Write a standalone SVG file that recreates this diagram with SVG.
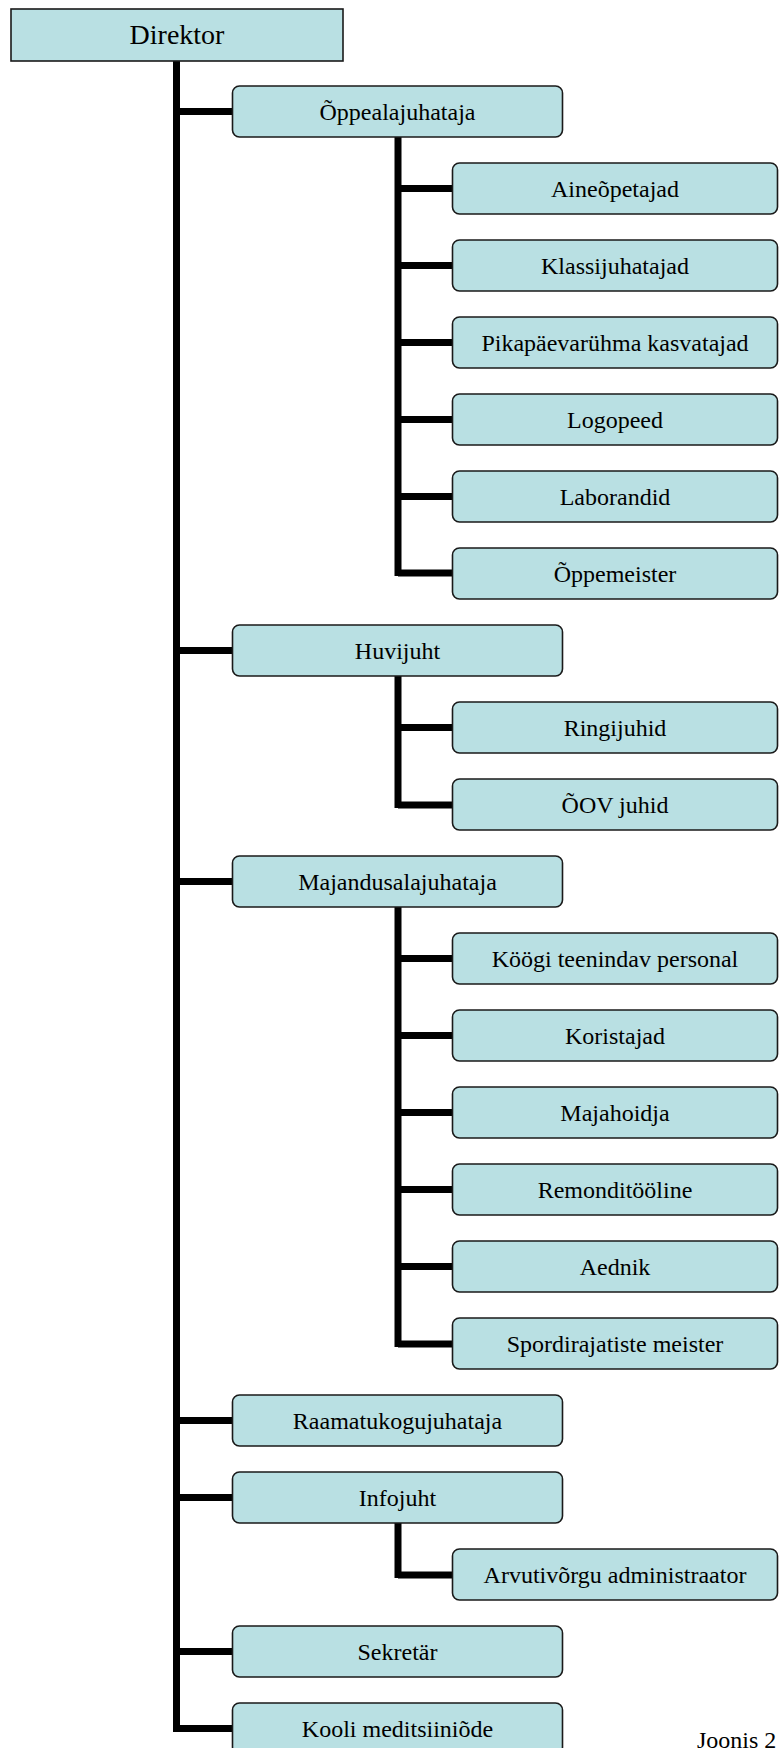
<svg xmlns="http://www.w3.org/2000/svg" width="779" height="1748" viewBox="0 0 779 1748">
<style>
.box{fill:#B9E0E3;stroke:#1a1a1a;stroke-width:1.6}
.t{font-family:"Liberation Serif","Times New Roman",serif;font-size:24px;fill:#000;text-anchor:middle}
.c{stroke:#000;stroke-width:7;fill:none;stroke-linejoin:miter;stroke-linecap:butt}
</style>
<rect width="779" height="1748" fill="#fff"/>
<g id="connectors">
<path class="c" d="M176.5 61 V1732"/>
<path class="c" d="M176.5 111.5 H232 M176.5 650.5 H232 M176.5 881.5 H232 M176.5 1420.5 H232 M176.5 1497.5 H232 M176.5 1651.5 H232 M176.5 1728.5 H232"/>
<path class="c" d="M398 137 V576 M398 188.5 H452 M398 265.5 H452 M398 342.5 H452 M398 419.5 H452 M398 496.5 H452 M398 573 H452"/>
<path class="c" d="M398 676 V808 M398 727.5 H452 M398 805 H452"/>
<path class="c" d="M398 907 V1347 M398 958.5 H452 M398 1035.5 H452 M398 1112.5 H452 M398 1189.5 H452 M398 1266.5 H452 M398 1344 H452"/>
<path class="c" d="M398 1523 V1578 M398 1575 H452"/>
</g>
<g id="n-direktor"><rect class="box" x="11" y="9" width="332" height="52"/><text class="t" x="177" y="44" style="font-size:28px">Direktor</text></g>
<g id="n-oppealajuhataja"><rect class="box" x="232.5" y="86" width="330" height="51" rx="7"/><text class="t" x="397.5" y="119.5">Õppealajuhataja</text></g>
<g id="n-aineopetajad"><rect class="box" x="452.5" y="163" width="325" height="51" rx="7"/><text class="t" x="615" y="196.5">Aineõpetajad</text></g>
<g id="n-klassijuhatajad"><rect class="box" x="452.5" y="240" width="325" height="51" rx="7"/><text class="t" x="615" y="273.5">Klassijuhatajad</text></g>
<g id="n-pikapaev"><rect class="box" x="452.5" y="317" width="325" height="51" rx="7"/><text class="t" x="615" y="350.5">Pikapäevarühma kasvatajad</text></g>
<g id="n-logopeed"><rect class="box" x="452.5" y="394" width="325" height="51" rx="7"/><text class="t" x="615" y="427.5">Logopeed</text></g>
<g id="n-laborandid"><rect class="box" x="452.5" y="471" width="325" height="51" rx="7"/><text class="t" x="615" y="504.5">Laborandid</text></g>
<g id="n-oppemeister"><rect class="box" x="452.5" y="548" width="325" height="51" rx="7"/><text class="t" x="615" y="581.5">Õppemeister</text></g>
<g id="n-huvijuht"><rect class="box" x="232.5" y="625" width="330" height="51" rx="7"/><text class="t" x="397.5" y="658.5">Huvijuht</text></g>
<g id="n-ringijuhid"><rect class="box" x="452.5" y="702" width="325" height="51" rx="7"/><text class="t" x="615" y="735.5">Ringijuhid</text></g>
<g id="n-oov"><rect class="box" x="452.5" y="779" width="325" height="51" rx="7"/><text class="t" x="615" y="812.5">ÕOV juhid</text></g>
<g id="n-majandus"><rect class="box" x="232.5" y="856" width="330" height="51" rx="7"/><text class="t" x="397.5" y="889.5">Majandusalajuhataja</text></g>
<g id="n-kook"><rect class="box" x="452.5" y="933" width="325" height="51" rx="7"/><text class="t" x="615" y="966.5">Köögi teenindav personal</text></g>
<g id="n-koristajad"><rect class="box" x="452.5" y="1010" width="325" height="51" rx="7"/><text class="t" x="615" y="1043.5">Koristajad</text></g>
<g id="n-majahoidja"><rect class="box" x="452.5" y="1087" width="325" height="51" rx="7"/><text class="t" x="615" y="1120.5">Majahoidja</text></g>
<g id="n-remont"><rect class="box" x="452.5" y="1164" width="325" height="51" rx="7"/><text class="t" x="615" y="1197.5">Remonditööline</text></g>
<g id="n-aednik"><rect class="box" x="452.5" y="1241" width="325" height="51" rx="7"/><text class="t" x="615" y="1274.5">Aednik</text></g>
<g id="n-sport"><rect class="box" x="452.5" y="1318" width="325" height="51" rx="7"/><text class="t" x="615" y="1351.5">Spordirajatiste meister</text></g>
<g id="n-raamatu"><rect class="box" x="232.5" y="1395" width="330" height="51" rx="7"/><text class="t" x="397.5" y="1428.5">Raamatukogujuhataja</text></g>
<g id="n-infojuht"><rect class="box" x="232.5" y="1472" width="330" height="51" rx="7"/><text class="t" x="397.5" y="1505.5">Infojuht</text></g>
<g id="n-arvuti"><rect class="box" x="452.5" y="1549" width="325" height="51" rx="7"/><text class="t" x="615" y="1582.5">Arvutivõrgu administraator</text></g>
<g id="n-sekretar"><rect class="box" x="232.5" y="1626" width="330" height="51" rx="7"/><text class="t" x="397.5" y="1659.5">Sekretär</text></g>
<g id="n-kooli"><rect class="box" x="232.5" y="1703" width="330" height="51" rx="7"/><text class="t" x="397.5" y="1736.5">Kooli meditsiiniõde</text></g>
<text x="697" y="1748" style="font-family:'Liberation Serif','Times New Roman',serif;font-size:24px">Joonis 2</text>
</svg>
